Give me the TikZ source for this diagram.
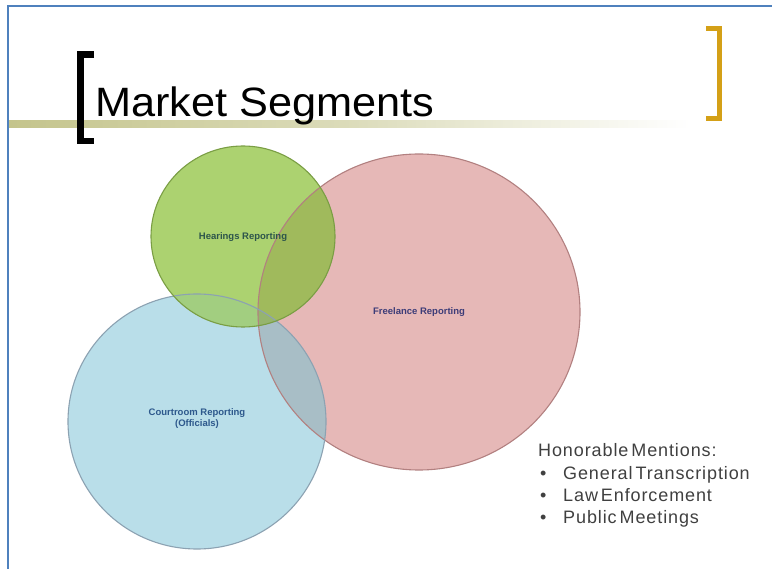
\documentclass[tikz,border=0pt]{standalone}
\usepackage{fontspec}
\setmainfont{Liberation Sans}
\newfontfamily\mentionfont{Liberation Sans}[LetterSpace=5, WordSpace=0.5]
\begin{document}
\begin{tikzpicture}[x=1pt,y=-1pt,
  circtext/.style={font=\fontsize{9.5}{11}\selectfont\bfseries, align=center, inner sep=0pt},
  mention/.style={font=\mentionfont\fontsize{18}{20}\selectfont, text=mentiontext, anchor=base west, inner sep=0pt},
  ringline/.style={line width=1.1pt}]
\definecolor{frameblue}{RGB}{79,129,189}
\definecolor{olivebar}{RGB}{196,196,140}
\definecolor{goldbr}{RGB}{212,160,23}
\definecolor{pinkF}{RGB}{230,184,183}
\definecolor{blueF}{RGB}{185,222,233}
\definecolor{greenF}{RGB}{172,210,112}
\definecolor{gpF}{RGB}{160,186,92}
\definecolor{bpF}{RGB}{168,190,198}
\definecolor{gbF}{RGB}{162,206,128}
\definecolor{gbpF}{RGB}{150,180,110}
\definecolor{pinkL}{RGB}{178,128,128}
\definecolor{blueL}{RGB}{140,162,178}
\definecolor{greenL}{RGB}{122,158,68}
\definecolor{hearT}{RGB}{45,85,75}
\definecolor{freeT}{RGB}{60,60,120}
\definecolor{courtT}{RGB}{45,88,140}
\definecolor{mentiontext}{RGB}{64,64,64}
\useasboundingbox (0,0) rectangle (772,569);
\fill[white] (0,0) rectangle (772,569);
% frame
\draw[frameblue, line width=2pt] (8,569) -- (8,6) -- (772,6);
% olive bar
\shade[left color=olivebar, right color=white, middle color=olivebar!60] (9,121) rectangle (690,128);
% brackets
\draw[black, line width=6.5pt, line join=miter] (94,54.5) -- (80.5,54.5) -- (80.5,141) -- (94,141);
\draw[goldbr, line width=5pt, line join=miter] (706,29) -- (719.5,29) -- (719.5,118.5) -- (706,118.5);
% title
\node[font=\fontsize{41}{44}\selectfont, anchor=base west, inner sep=0pt] (title) at (95,117) {\scalebox{1.056}[1]{Market Segments}};
% circles
\def\pinkpath{(419,312) ellipse [x radius=161, y radius=158]}
\def\bluepath{(197,421.5) ellipse [x radius=129, y radius=127.5]}
\def\greenpath{(243,236.5) ellipse [x radius=92, y radius=90.5]}
\fill[pinkF] \pinkpath;
\fill[blueF] \bluepath;
\fill[greenF] \greenpath;
% overlaps
\begin{scope}
  \clip \pinkpath;
  \fill[bpF] \bluepath;
  \fill[gpF] \greenpath;
\end{scope}
\begin{scope}
  \clip \bluepath;
  \fill[gbF] \greenpath;
  \clip \pinkpath;
  \fill[gbpF] \greenpath;
\end{scope}
% outlines
\draw[ringline, pinkL] \pinkpath;
\draw[ringline, blueL] \bluepath;
\draw[ringline, greenL] \greenpath;
% circle labels
\node[circtext, text=hearT] (hear) at (243,237) {Hearings Reporting};
\node[circtext, text=freeT] (free) at (419,312) {Freelance Reporting};
\node[circtext, text=courtT] (court) at (197,419) {Courtroom Reporting\\(Officials)};
% honorable mentions
\node[mention] (hm) at (538,457) {Honorable Mentions:};
\node[mention] (b1) at (540,480) {•};
\node[mention] (i1) at (563,480) {General Transcription};
\node[mention] (b2) at (540,502) {•};
\node[mention] (i2) at (563,502) {Law Enforcement};
\node[mention] (b3) at (540,524) {•};
\node[mention] (i3) at (563,524) {Public Meetings};
\end{tikzpicture}
\end{document}
